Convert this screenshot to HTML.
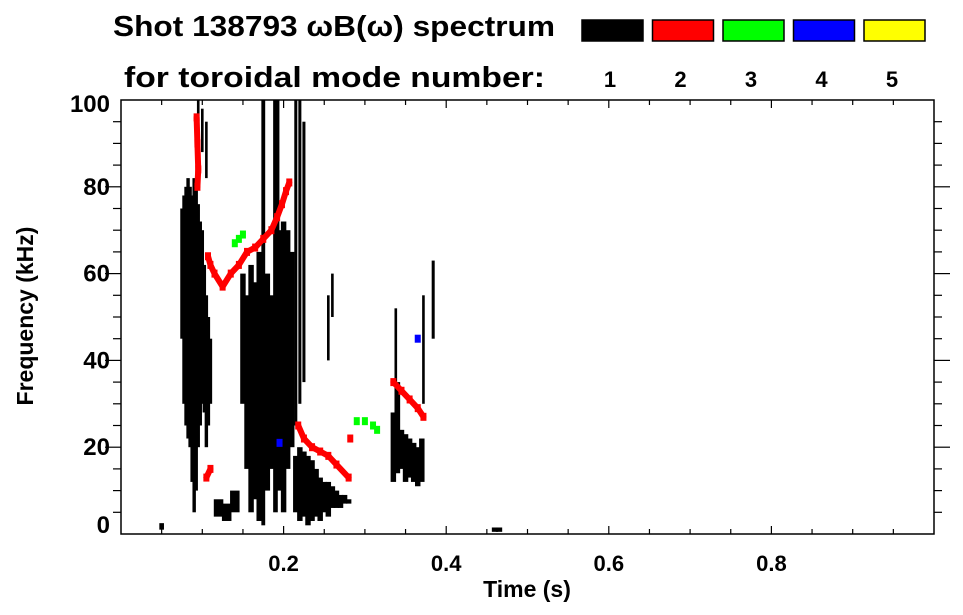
<!DOCTYPE html>
<html><head><meta charset="utf-8"><style>
html,body{margin:0;padding:0;background:#fff;}
svg{display:block;font-family:"Liberation Sans",sans-serif;font-weight:bold;}
</style></head><body>
<svg id="chart" width="963" height="615" viewBox="0 0 963 615">
<text x="113" y="36" font-size="29" textLength="442" lengthAdjust="spacingAndGlyphs">Shot 138793 ωB(ω) spectrum</text>
<text x="124" y="87" font-size="29" textLength="421" lengthAdjust="spacingAndGlyphs">for toroidal mode number:</text>
<g id="legend"></g>
<g id="marks"></g>
<g id="axes"></g>
<text x="527" y="597" font-size="23" text-anchor="middle">Time (s)</text>
<text transform="translate(33,316) rotate(-90)" font-size="23" text-anchor="middle">Frequency (kHz)</text>
</svg>
<script>
const modeColors = ["#000000","#ff0000","#00ff00","#0000ff","#ffff00"];
const modeLabels = ["1","2","3","4","5"];
const xTicks = [0.2,0.4,0.6,0.8];
const yTicks = [0,20,40,60,80,100];
// black (n=1) strips: time, fLow, fHigh, width(s)
const stripT  = [0.075,0.0775,0.080,0.0825,0.085,0.0875,0.090,0.0925,0.095,0.0975,0.100,0.1025,0.105,0.1075,0.110,
  0.150,0.155,0.160,0.165,0.170,0.175,0.180,0.185,0.190,0.1925,0.195,0.200,0.205,0.210,0.215,0.220,0.225,
  0.215,0.220,0.225,0.230,0.235,0.240,0.245,0.250,0.255,0.260,0.265,0.270,0.275,0.280,
  0.335,0.340,0.345,0.350,0.355,0.360,0.365,0.370,
  0.338,0.372,0.384,0.095,0.1,0.105,0.12,0.13,0.14,0.05,0.46,0.465,0.255,0.26];
const stripLo = [45,30,25,22,20,12,5,10,20,25,30,28,20,25,30,
  30,15,5,8,3,2,10,15,5,20,10,5,15,20,25,30,35,
  5,3,4,2,3,4,3,5,4,6,6,6,7,7,
  12,14,15,12,13,12,11,12,
  20,30,45,85,88,82,4,3,5,1,0.5,0.5,40,50];
const stripHi = [75,78,80,82,80,78,82,80,76,72,70,62,55,50,45,
  60,55,62,58,65,100,60,55,100,100,70,72,70,65,100,100,95,
  18,20,19,18,17,15,13,12,12,11,10,9,9,8,
  28,35,24,23,22,21,20,22,
  52,55,63,100,98,95,8,7,10,2.5,1.5,1.5,55,60];
const stripW  = [0.0025,0.0025,0.0025,0.0025,0.0025,0.0025,0.0025,0.0025,0.0025,0.0025,0.0025,0.0025,0.0025,0.0025,0.0025,
  0.005,0.005,0.005,0.005,0.005,0.003,0.005,0.005,0.004,0.003,0.005,0.005,0.005,0.005,0.002,0.002,0.002,
  0.005,0.005,0.005,0.005,0.005,0.005,0.005,0.005,0.005,0.005,0.005,0.005,0.005,0.005,
  0.005,0.005,0.005,0.005,0.005,0.005,0.005,0.005,
  0.0015,0.0015,0.002,0.0015,0.0015,0.0015,0.01,0.01,0.01,0.004,0.006,0.006,0.0015,0.0015];
// n=2 (red), grouped into traces
const redT = [0.093,0.094,0.095,0.094,0.107,0.110,0.115,0.125,0.135,0.145,0.155,0.165,0.175,0.185,0.192,0.198,0.203,0.207,
  0.218,0.225,0.235,0.245,0.255,0.265,0.28,0.282,0.335,0.345,0.355,0.365,0.372,0.105,0.11];
const redF = [96,90,84,80,64,62,60,57,60,62,65,66,68,70,73,76,79,81,
  25,22,20,19,18,16,13,22,35,33,31,29,27,13,15];
const redGroup = [0,0,0,0,1,1,1,1,1,1,1,1,1,1,1,1,1,1,
  2,2,2,2,2,2,2,3,4,4,4,4,4,5,5];
// n=3 (green)
const greenT = [0.140,0.145,0.150,0.29,0.30,0.31,0.315];
const greenF = [67,68,69,26,26,25,24];
// n=4 (blue)
const blueT = [0.195,0.365];
const blueF = [21,45];

const X0=121, X1=934, Y0=534, Y1=100;
const xs = t => X0 + t*(X1-X0);
const ys = f => Y0 - f/100*(Y0-Y1);
const NS="http://www.w3.org/2000/svg";
function mk(tag, attrs, parent){const e=document.createElementNS(NS,tag);for(const k in attrs)e.setAttribute(k,attrs[k]);parent.appendChild(e);return e;}
const lg=document.getElementById('legend');
modeColors.forEach((c,i)=>{
  const x=582+i*70.5;
  const r=mk('rect',{x:x,y:20,width:61,height:21,fill:c,stroke:'#000','stroke-width':1.5},lg);
  
  
  const t=mk('text',{x:x+28,y:87,'font-size':22,'text-anchor':'middle'},lg);
  t.textContent=modeLabels[i];
  
  
});
const mg=document.getElementById('marks');
stripT.forEach((t,i)=>{
  const r=mk('rect',{x:xs(t-stripW[i]/2)-0.7,y:ys(stripHi[i]),width:Math.max(1.2,stripW[i]*(X1-X0)+1.4),height:ys(stripLo[i])-ys(stripHi[i]),fill:'#000'},mg);
  
  
});
// red traces
const groups=[...new Set(redGroup)];
groups.forEach(g=>{
  const p=[];
  redT.forEach((t,i)=>{ if(redGroup[i]===g) p.push(xs(t)+','+ys(redF[i])); });
  if(p.length>1){
    const pl=mk('polyline',{points:p.join(' '),fill:'none',stroke:'#ff0000','stroke-width':6,'stroke-linejoin':'round','stroke-linecap':'round'},mg);
    
    
  }
});
function pts(T,F,col,name){
  T.forEach((t,i)=>{
    const r=mk('rect',{x:xs(t)-3,y:ys(F[i])-4,width:6,height:8,fill:col},mg);
    
    
  });
}
pts(redT,redF,'#ff0000','mode2-point');
pts(greenT,greenF,'#00ff00','mode3-point');
pts(blueT,blueF,'#0000ff','mode4-point');
const ax=document.getElementById('axes');
mk('rect',{x:X0,y:Y1,width:X1-X0,height:Y0-Y1,fill:'none',stroke:'#000','stroke-width':1.5},ax);
for(let k=1;k<20;k++){
  const x=xs(k*0.05), L=(k%4===0)?8:5;
  mk('line',{x1:x,x2:x,y1:Y0,y2:Y0-L,stroke:'#000','stroke-width':1.2},ax);
  mk('line',{x1:x,x2:x,y1:Y1,y2:Y1+L,stroke:'#000','stroke-width':1.2},ax);
}
for(let k=1;k<20;k++){
  const y=ys(k*5), L=(k%4===0)?16:8;
  mk('line',{x1:X0,x2:X0-L,y1:y,y2:y,stroke:'#000','stroke-width':1.2},ax);
  mk('line',{x1:X1,x2:X1+L,y1:y,y2:y,stroke:'#000','stroke-width':1.2},ax);
}
xTicks.forEach(v=>{
  const t=mk('text',{x:xs(v),y:571,'font-size':22,'text-anchor':'middle'},ax);
  t.textContent=String(v);
  
  
});
yTicks.forEach(v=>{
  const y = v===0 ? 533 : (v===100 ? 112 : ys(v)+8);
  const t=mk('text',{x:110,y:y,'font-size':24,'text-anchor':'end'},ax);
  t.textContent=String(v);
  
  
});
</script>
</body></html>
